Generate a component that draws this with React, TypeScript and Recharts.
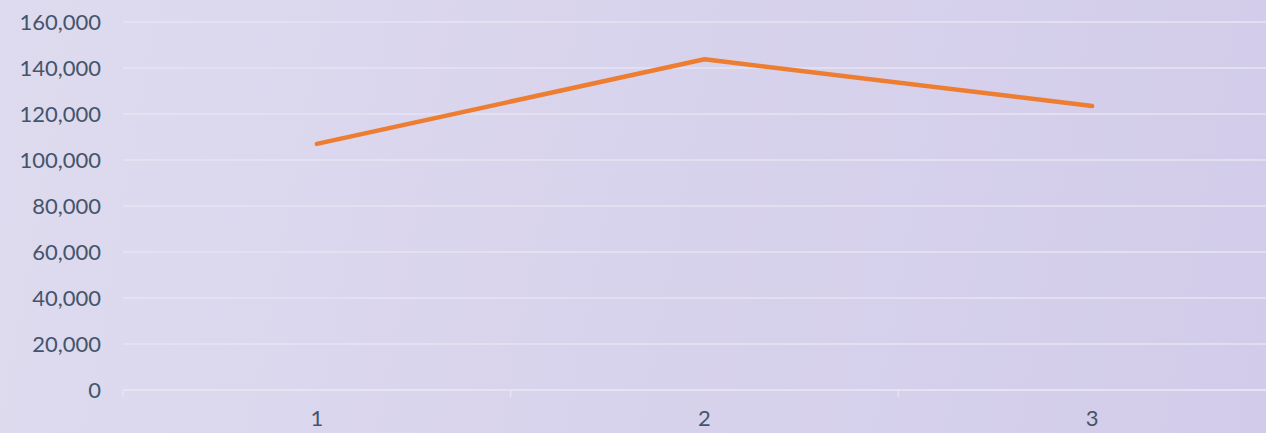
import { CartesianGrid, Line, LineChart, XAxis, YAxis } from "recharts";

// categories and values
const categories = ["1", "2", "3"];
const values = [107000, 143800, 123500];
const yTicks = [0, 20000, 40000, 60000, 80000, 100000, 120000, 140000, 160000];

const data = categories.map((c, i) => ({ name: c, value: values[i] }));

const chartW = 1300;
const marginL = 0;
const marginR = 14;
const yAxisW = 123;
const bandW = (chartW - marginL - marginR - yAxisW) / categories.length;

const fmt = (v: number) => v.toLocaleString("en-US");

function XTick(props: any) {
    const { x, y, payload } = props;
    const left = x - bandW / 2;
    return (
        <g>
            <line x1={left} y1={390} x2={left} y2={397} stroke="#E6E4F1" strokeWidth={1.5} />
            <text x={x} y={y} dy="0.71em" textAnchor="middle" fill="#44546A" fontSize={22} fontFamily="Lato, 'Open Sans', sans-serif">
                {payload.value}
            </text>
        </g>
    );
}

export default function App() {
    return (
        <div
            style={{
                position: "absolute",
                left: 0,
                top: 0,
                width: 1266,
                height: 433,
                overflow: "hidden",
                background: "linear-gradient(100deg, #DEDBEF 0%, #D8D3EC 50%, #D2CCEA 100%)",
            }}
        >
            <LineChart width={chartW} height={433} data={data} margin={{ top: 22, right: marginR, bottom: 0, left: marginL }}>
                <CartesianGrid vertical={false} stroke="#E6E4F2" strokeWidth={1.5} />
                <XAxis
                    dataKey="name"
                    scale="band"
                    height={43}
                    axisLine={{ stroke: "#E6E4F1", strokeWidth: 1.5 }}
                    tickLine={false}
                    tickSize={0}
                    tickMargin={20}
                    tick={<XTick />}
                />
                <YAxis
                    width={yAxisW}
                    domain={[0, 160000]}
                    ticks={yTicks}
                    tickFormatter={fmt}
                    axisLine={false}
                    tickLine={false}
                    tickSize={0}
                    tickMargin={22}
                    tick={{ fill: "#44546A", fontSize: 22, fontFamily: "Lato, 'Open Sans', sans-serif" }}
                />
                <Line
                    dataKey="value"
                    type="linear"
                    stroke="#ED7D31"
                    strokeWidth={4.5}
                    strokeLinecap="round"
                    strokeLinejoin="round"
                    dot={false}
                    activeDot={false}
                    isAnimationActive={false}
                />
            </LineChart>
        </div>
    );
}
